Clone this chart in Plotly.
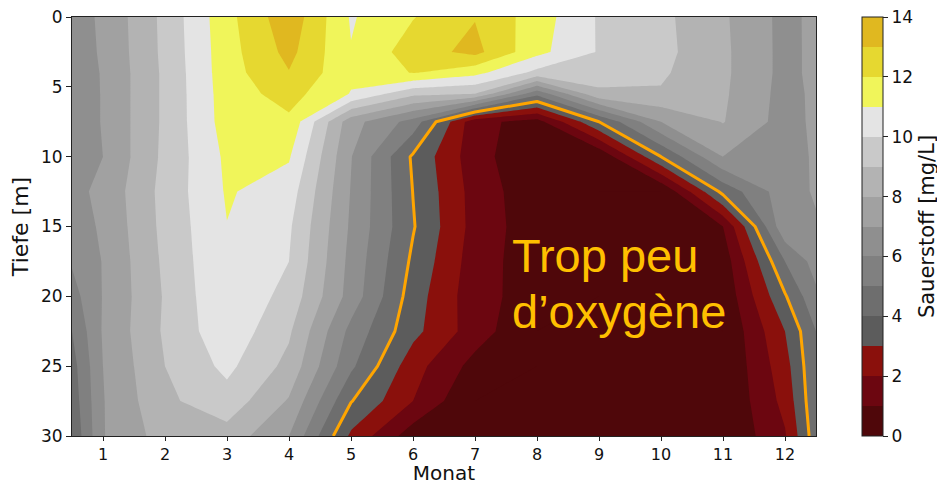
import numpy as np
import plotly.graph_objects as go

# ---- grid (month positions and depth rows) ----
months = [0.5, 1, 2, 3, 4, 5, 6, 7, 8, 9, 10, 11, 12, 12.5]
depths = [0, 2.5, 4, 5.5, 7.5, 10, 12.5, 15, 17.5, 20, 22.5, 25, 27.5, 30]

# ---- oxygen profiles (mg/L) per month column, top to bottom ----
o2_m00_5 = [6.6, 6.6, 6.6, 6.5, 6.5, 6.5, 6.7, 6.5, 6.1, 5.6, 5.0, 4.6, 4.4, 4.15]
o2_m01 = [7.15, 7.1, 7.05, 7.05, 7.05, 7.0, 7.25, 7.15, 7.05, 7.05, 7.1, 7.0, 6.95, 6.95]
o2_m02 = [9.28, 9.25, 9.2, 9.2, 9.2, 9.25, 9.35, 9.3, 9.2, 9.1, 9.15, 9.0, 8.8, 8.45]
o2_m03 = [11.68, 11.6, 11.57, 11.5, 11.45, 11.2, 11.1, 10.98, 10.95, 10.9, 10.7, 10.25, 9.6, 8.6]
o2_m04 = [13.68, 13.3, 12.95, 12.4, 11.8, 11.1, 10.5, 10.15, 10.0, 9.65, 9.15, 8.7, 7.9, 7.0]
o2_m05 = [10.9, 11.05, 11.2, 10.95, 7.4, 7.05, 6.95, 6.85, 6.7, 6.6, 5.7, 5.2, 4.05, 2.8]
o2_m06 = [11.95, 12.5, 12.05, 9.25, 5.6, 3.85, 3.98, 4.08, 3.8, 3.5, 3.3, 2.4, 2.0, 0.45]
o2_m07 = [12.95, 13.3, 11.3, 9.0, 1.3, 1.42, 1.6, 1.63, 1.5, 1.4, 1.5, 0.65, 0.0, 0.0]
o2_m08 = [11.5, 11.3, 9.7, 5.3, 0.6, 0.1, 0.3, 0.39, 0.4, 0.5, 0.0, 0.0, 0.0, 0.0]
o2_m09 = [9.9, 9.92, 9.45, 8.8, 4.0, 0.1, 0.0, 0.0, 0.0, 0.0, 0.0, 0.0, 0.0, 0.0]
o2_m10 = [9.25, 9.3, 9.15, 8.9, 7.0, 4.0, 0.0, 0.0, 0.0, 0.0, 0.0, 0.0, 0.0, 0.0]
o2_m11 = [8.15, 8.2, 8.2, 8.15, 8.05, 7.0, 4.3, 1.0, 0.4, 0.2, 0.0, 0.0, 0.0, 0.0]
o2_m12 = [6.7, 6.7, 6.7, 6.65, 6.6, 6.5, 6.6, 6.8, 5.0, 3.9, 3.0, 2.6, 2.3, 1.9]
o2_m12_5 = [7.26, 7.25, 7.25, 7.2, 7.2, 7.15, 7.1, 6.9, 6.4, 5.8, 5.0, 4.9, 4.8, 4.6]

profiles = [o2_m00_5, o2_m01, o2_m02, o2_m03, o2_m04, o2_m05, o2_m06,
            o2_m07, o2_m08, o2_m09, o2_m10, o2_m11, o2_m12, o2_m12_5]

# band colours, one per 1 mg/L level from 0 to 14
band_colors = ["#4f070a", "#6c0610", "#8a100c", "#5c5c5c", "#6e6e6e", "#808080",
               "#8f8f8f", "#a1a1a1", "#b3b3b3", "#c9c9c9", "#e4e4e4",
               "#f0f55a", "#e6d830", "#e0b820"]
x_ticks = list(range(1, 13))
y_ticks = [0, 5, 10, 15, 20, 25, 30]
cbar_ticks = [0, 2, 4, 6, 8, 10, 12, 14]
threshold = 4
label_lines = ["Trop peu", "d\u2019oxygène"]

z = np.column_stack(profiles)

n = len(band_colors)
colorscale = []
for i, c in enumerate(band_colors):
    colorscale.append([i / n, c])
    colorscale.append([(i + 1) / n, c])

fig = go.Figure()
fig.add_trace(go.Contour(
    x=months, y=depths, z=z,
    zmin=0, zmax=14, colorscale=colorscale,
    contours=dict(start=0, end=14, size=1, coloring="fill", showlines=False),
    line=dict(width=0, smoothing=0),
    hoverinfo="skip",
    colorbar=dict(
        x=1.062, xanchor="left", xref="paper", xpad=0, ypad=0,
        y=0.5, yanchor="middle", len=1, lenmode="fraction",
        thickness=21, outlinewidth=1, outlinecolor="#222",
        tickmode="array", tickvals=cbar_ticks, ticks="outside", ticklen=5,
        ticklabeloverflow="allow",
        tickcolor="#222", tickfont=dict(family="DejaVu Sans", size=17, color="#111"),
        title=dict(text="Sauerstoff [mg/L]", side="right",
                   font=dict(family="DejaVu Sans", size=21, color="#111")),
    ),
))
fig.add_trace(go.Contour(
    x=months, y=depths, z=z,
    contours=dict(start=threshold, end=threshold, size=1, coloring="none"),
    line=dict(color="#ffa500", width=3, smoothing=0),
    showscale=False, hoverinfo="skip",
))

fig.add_annotation(x=7.56, y=17.1, xref="x", yref="y", text=label_lines[0],
                   showarrow=False, xanchor="left", yanchor="middle",
                   font=dict(family="Liberation Sans, Arial", size=47, color="#ffc000"))
fig.add_annotation(x=7.56, y=21.1, xref="x", yref="y", text=label_lines[1],
                   showarrow=False, xanchor="left", yanchor="middle",
                   font=dict(family="Liberation Sans, Arial", size=47, color="#ffc000"))

fig.update_xaxes(range=[0.5, 12.5], tickmode="array", tickvals=x_ticks,
                 ticks="outside", ticklen=4, tickcolor="#222",
                 showline=True, mirror=True, linecolor="#222", linewidth=1,
                 showgrid=False, zeroline=False, ticklabeloverflow="allow",
                 tickfont=dict(family="DejaVu Sans", size=16, color="#111"),
                 title=dict(text="Monat", font=dict(family="DejaVu Sans", size=20, color="#111"),
                            standoff=8))
fig.update_yaxes(range=[30, 0], tickmode="array", tickvals=y_ticks,
                 ticks="outside", ticklen=5, tickcolor="#222",
                 showline=True, mirror=True, linecolor="#222", linewidth=1,
                 showgrid=False, zeroline=False, ticklabeloverflow="allow",
                 tickfont=dict(family="DejaVu Sans", size=17, color="#111"),
                 title=dict(text="Tiefe [m]", font=dict(family="DejaVu Sans", size=22, color="#111"),
                            standoff=6))
fig.update_layout(width=937, height=477,
                  margin=dict(l=64, r=129, t=9, b=49, autoexpand=False),
                  paper_bgcolor="white", plot_bgcolor="white", showlegend=False)

fig.write_html("out.html")
